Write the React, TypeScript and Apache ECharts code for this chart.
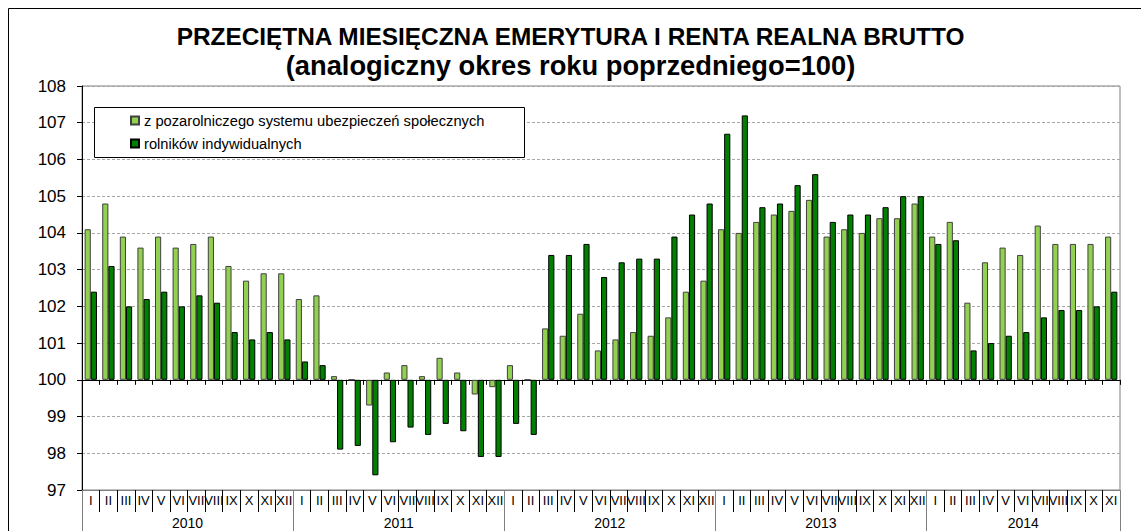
import React, { useEffect, useRef } from 'react';
import * as echarts from 'echarts';

const TITLE_LINE_1 = 'PRZECIĘTNA MIESIĘCZNA EMERYTURA I RENTA REALNA BRUTTO';
const TITLE_LINE_2 = '(analogiczny okres roku poprzedniego=100)';
const BASE = 100;
const years = ['2010', '2011', '2012', '2013', '2014'];
const monthsPerYear = [12, 12, 12, 12, 11];
const monthNames = ['I', 'II', 'III', 'IV', 'V', 'VI', 'VII', 'VIII', 'IX', 'X', 'XI', 'XII'];
const seriesNames = ['z pozarolniczego systemu ubezpieczeń społecznych', 'rolników indywidualnych'];

// z pozarolniczego systemu ubezpieczeń społecznych
const nonAgri = [
  104.1, 104.8, 103.9, 103.6, 103.9, 103.6, 103.7, 103.9, 103.1, 102.7, 102.9, 102.9, // 2010
  102.2, 102.3, 100.1, 100.0, 99.3, 100.2, 100.4, 100.1, 100.6, 100.2, 99.6, 99.8, // 2011
  100.4, 100.0, 101.4, 101.2, 101.8, 100.8, 101.1, 101.3, 101.2, 101.7, 102.4, 102.7, // 2012
  104.1, 104.0, 104.3, 104.5, 104.6, 104.9, 103.9, 104.1, 104.0, 104.4, 104.4, 104.8, // 2013
  103.9, 104.3, 102.1, 103.2, 103.6, 103.4, 104.2, 103.7, 103.7, 103.7, 103.9, // 2014
];

// rolników indywidualnych
const farmers = [
  102.4, 103.1, 102.0, 102.2, 102.4, 102.0, 102.3, 102.1, 101.3, 101.1, 101.3, 101.1, // 2010
  100.5, 100.4, 98.1, 98.2, 97.4, 98.3, 98.7, 98.5, 98.8, 98.6, 97.9, 97.9, // 2011
  98.8, 98.5, 103.4, 103.4, 103.7, 102.8, 103.2, 103.3, 103.3, 103.9, 104.5, 104.8, // 2012
  106.7, 107.2, 104.7, 104.8, 105.3, 105.6, 104.3, 104.5, 104.5, 104.7, 105.0, 105.0, // 2013
  103.7, 103.8, 100.8, 101.0, 101.2, 101.3, 101.7, 101.9, 101.9, 102.0, 102.4, // 2014
];

const Y_MIN = 97;
const Y_MAX = 108;

export default function App() {
  const ref = useRef<HTMLDivElement>(null);

  useEffect(() => {
    if (!ref.current) return;
    const chart = echarts.init(ref.current, undefined, { renderer: 'svg' });

    const categories: string[] = [];
    const yearStarts: number[] = [];
    let acc = 0;
    years.forEach((_, i) => {
      yearStarts.push(acc);
      for (let m = 0; m < monthsPerYear[i]; m++) categories.push(monthNames[m]);
      acc += monthsPerYear[i];
    });
    const total = categories.length;
    const yearCenterHalf: Record<number, string> = {};
    years.forEach((y, i) => {
      yearCenterHalf[2 * yearStarts[i] + monthsPerYear[i]] = y;
    });
    const dev = (arr: number[]) => arr.map((v) => Math.round((v - BASE) * 10) / 10);
    const ff = '"Liberation Sans", Arial, sans-serif';

    chart.setOption({
      animation: false,
      backgroundColor: '#fff',
      textStyle: { fontFamily: ff, color: '#000' },
      title: {
        text: '{a|' + TITLE_LINE_1 + '}\n{b|' + TITLE_LINE_2 + '}',
        left: 'center',
        top: 22,
        padding: 0,
        textStyle: {
          fontSize: 24,
          fontWeight: 'bold',
          lineHeight: 29,
          color: '#000',
          fontFamily: ff,
          rich: {
            a: { fontSize: 24.4, fontWeight: 'bold', lineHeight: 29, color: '#000', fontFamily: ff },
            b: { fontSize: 27.3, fontWeight: 'bold', lineHeight: 29, color: '#000', fontFamily: ff },
          },
        },
      },
      legend: {
        orient: 'vertical',
        left: 130,
        top: 113,
        padding: 0,
        itemWidth: 8,
        itemHeight: 8,
        itemGap: 8,
        icon: 'rect',
        selectedMode: false,
        textStyle: { fontSize: 14.7, lineHeight: 15, color: '#000' },
        data: seriesNames,
      },
      grid: {
        left: 82,
        right: 21,
        top: 86,
        bottom: 41,
        show: true,
        borderColor: '#808080',
        borderWidth: 1,
        backgroundColor: 'transparent',
      },
      graphic: {
        elements: [
          {
            type: 'rect',
            z: 3,
            shape: { x: 94.5, y: 107.5, width: 430, height: 50 },
            style: { fill: '#fff', stroke: '#000', lineWidth: 1 },
          },
          {
            type: 'rect',
            z: 10,
            silent: true,
            shape: { x: 8.5, y: 8.5, width: 3000, height: 3000 },
            style: { fill: 'none', stroke: '#000', lineWidth: 1 },
          },
        ],
      },
      xAxis: [
        {
          type: 'category',
          data: categories,
          position: 'bottom',
          axisLine: { show: true, onZero: true, lineStyle: { color: '#000' } },
          axisTick: { show: true, interval: 0, length: 5, lineStyle: { color: '#000' } },
          axisLabel: { show: false },
          splitLine: { show: false },
        },
        {
          type: 'category',
          data: categories,
          position: 'bottom',
          axisLine: { show: true, onZero: false, lineStyle: { color: '#808080' } },
          axisTick: { show: true, interval: 0, length: 22, lineStyle: { color: '#000' } },
          axisLabel: { show: true, interval: 0, fontSize: 13, margin: 4, color: '#000' },
          splitLine: { show: false },
        },
        {
          type: 'value',
          min: 0,
          max: total * 2,
          interval: 1,
          position: 'bottom',
          axisLine: { show: false, onZero: false },
          axisTick: { show: false },
          splitLine: { show: false },
          axisLabel: {
            show: true,
            fontSize: 14,
            margin: 26,
            color: '#000',
            showMinLabel: true,
            showMaxLabel: true,
            formatter: (v: number) => yearCenterHalf[v] ?? '',
          },
        },
        {
          type: 'category',
          data: categories,
          position: 'bottom',
          axisLine: { show: false, onZero: false },
          axisTick: {
            show: true,
            interval: (i: number) => yearStarts.includes(i),
            length: 41,
            lineStyle: { color: '#808080' },
          },
          axisLabel: { show: false },
          splitLine: { show: false },
        },
      ],
      yAxis: {
        type: 'value',
        min: Y_MIN - BASE,
        max: Y_MAX - BASE,
        interval: 1,
        axisLine: { show: true, onZero: false, lineStyle: { color: '#000' } },
        axisTick: { show: true, length: 5, lineStyle: { color: '#000' } },
        axisLabel: { fontSize: 17, margin: 16, color: '#000', formatter: (v: number) => String(Math.round(v + BASE)) },
        splitLine: { show: true, lineStyle: { color: '#a6a6a6', type: [3, 2] } },
      },
      series: [
        {
          name: seriesNames[0],
          type: 'bar',
          xAxisIndex: 0,
          yAxisIndex: 0,
          data: dev(nonAgri),
          barGap: '0%',
          barCategoryGap: '30%',
          itemStyle: { color: '#92D050', borderColor: '#404040', borderWidth: 1 },
        },
        {
          name: seriesNames[1],
          type: 'bar',
          xAxisIndex: 0,
          yAxisIndex: 0,
          data: dev(farmers),
          barGap: '0%',
          barCategoryGap: '30%',
          itemStyle: { color: '#008000', borderColor: '#000', borderWidth: 1 },
        },
      ],
    });

    return () => chart.dispose();
  }, []);

  return (
    <div
      ref={ref}
      style={{ position: 'fixed', left: 0, top: 0, width: 1141, height: 531, overflow: 'hidden', background: '#fff' }}
    />
  );
}
